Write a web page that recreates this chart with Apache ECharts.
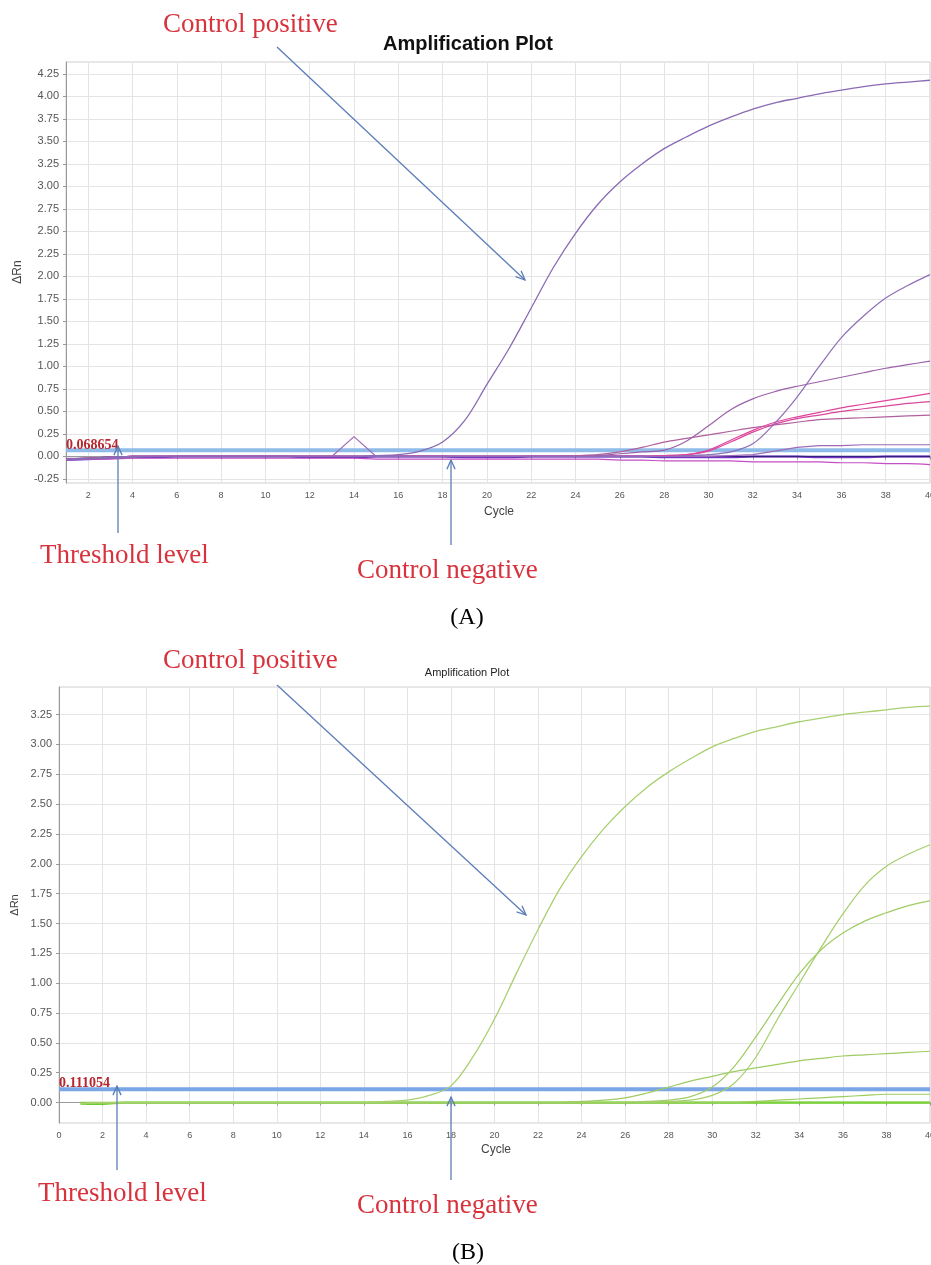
<!DOCTYPE html>
<html><head><meta charset="utf-8">
<script src="https://cdn.jsdelivr.net/npm/echarts@6/dist/echarts.min.js"></script>
<style>html,body{margin:0;padding:0;background:#fff;overflow:hidden}#c{width:931px;height:1265px}</style>
</head><body><div id="c"></div>
<script>
// ---------- shared ----------
const cycles = [1,2,3,4,5,6,7,8,9,10,11,12,13,14,15,16,17,18,19,20,21,22,23,24,25,26,27,28,29,30,31,32,33,34,35,36,37,38,39,40];

// ---------- panel A (purple) ----------
const yTicksA = [-0.25,0,0.25,0.5,0.75,1,1.25,1.5,1.75,2,2.25,2.5,2.75,3,3.25,3.5,3.75,4,4.25];
const xTicksA = [2,4,6,8,10,12,14,16,18,20,22,24,26,28,30,32,34,36,38,40];
const thresholdA = 0.068654;
const aPositive = [-0.04,-0.03,-0.02,-0.01,0,0,0,0,0,0,0,0,0,0,0.01,0.02,0.06,0.16,0.4,0.8,1.2,1.65,2.1,2.48,2.8,3.05,3.25,3.42,3.55,3.67,3.77,3.86,3.93,3.98,4.03,4.07,4.11,4.14,4.16,4.18];
const aSample1 = [-0.03,-0.02,-0.01,0,0,0,0,0,0,0,0,0,0,0,0,0,0,0,0,0,0,0,0,0,0,0,0,0,0.01,0.02,0.05,0.14,0.37,0.66,1.0,1.32,1.56,1.76,1.9,2.02];
const aSample2 = [-0.03,-0.02,-0.01,0,0,0,0,0,0,0,0,0,0,0,0,0,0,0,0,0,0,0,0,0,0.01,0.03,0.05,0.07,0.17,0.34,0.52,0.64,0.72,0.78,0.83,0.88,0.93,0.98,1.02,1.06];
const aSample3 = [-0.03,-0.02,-0.01,0,0,0,0,0,0,0,0,0,0,0,0,0,0,0,0,0,0,0,0,0,0,0,0,0.01,0.02,0.07,0.18,0.29,0.38,0.44,0.49,0.54,0.58,0.62,0.66,0.70];
const aSample4 = [-0.03,-0.02,-0.01,0,0,0,0,0,0,0,0,0,0,0,0,0,0,0,0,0,0,0,0,0,0,0,0,0.01,0.02,0.06,0.16,0.27,0.36,0.42,0.46,0.5,0.53,0.56,0.59,0.61];
const aSample5 = [-0.03,-0.02,-0.01,0,0,0,0,0,0,0,0,0,0,0,0,0,0,0,0,0,0,0,0,0.01,0.02,0.05,0.1,0.16,0.2,0.24,0.28,0.32,0.35,0.38,0.41,0.42,0.43,0.44,0.45,0.46];
const aSample6 = [-0.02,-0.02,-0.01,0,0,0,0,0,0,0,0,0,0,0.22,0,0,0,0,0,0,0,0,0,0,0,0,0,0,0,0,0.01,0.02,0.06,0.1,0.12,0.12,0.13,0.13,0.13,0.13];
const aSample7 = [-0.04,-0.03,-0.03,-0.02,-0.02,-0.02,-0.02,-0.02,-0.02,-0.02,-0.02,-0.02,-0.02,-0.02,-0.03,-0.03,-0.03,-0.03,-0.03,-0.03,-0.03,-0.03,-0.03,-0.03,-0.03,-0.04,-0.04,-0.05,-0.05,-0.05,-0.05,-0.06,-0.06,-0.06,-0.06,-0.07,-0.07,-0.08,-0.08,-0.09];
const aBaseline = [-0.03,-0.02,-0.01,0,0,0,0,0,0,0,0,0,0,0,0,0,0,0,0,0,0,0,0,0,0,0,0,0,0,0,0,0,0,0,0,0,0,0,0,0];
const aNegative = [-0.04,-0.03,-0.02,-0.01,-0.01,0,0,0,0,0,0,-0.01,-0.01,-0.01,0,0,0,0,-0.01,-0.01,-0.01,0,0,0,0,0,0,-0.01,-0.01,-0.01,-0.01,0,0,0,-0.01,-0.01,-0.01,0,0,0];

// ---------- panel B (green) ----------
const yTicksB = [0,0.25,0.5,0.75,1,1.25,1.5,1.75,2,2.25,2.5,2.75,3,3.25];
const xTicksB = [0,2,4,6,8,10,12,14,16,18,20,22,24,26,28,30,32,34,36,38,40];
const thresholdB = 0.111054;
const bPositive = [-0.01,0,0,0,0,0,0,0,0,0,0,0,0,0,0.01,0.02,0.06,0.14,0.38,0.7,1.08,1.45,1.79,2.06,2.29,2.48,2.64,2.77,2.88,2.98,3.05,3.11,3.15,3.19,3.22,3.25,3.27,3.29,3.31,3.32];
const bSample1 = [-0.01,0,0,0,0,0,0,0,0,0,0,0,0,0,0,0,0,0,0,0,0,0,0,0,0,0,0.01,0.02,0.05,0.13,0.3,0.55,0.82,1.08,1.28,1.42,1.52,1.59,1.65,1.69];
const bSample2 = [-0.01,0,0,0,0,0,0,0,0,0,0,0,0,0,0,0,0,0,0,0,0,0,0,0,0,0,0,0.01,0.02,0.06,0.16,0.38,0.7,1.0,1.3,1.58,1.82,1.98,2.08,2.16];
const bSample3 = [-0.01,0,0,0,0,0,0,0,0,0,0,0,0,0,0,0,0,0,0,0,0,0,0,0.01,0.02,0.04,0.08,0.13,0.18,0.22,0.26,0.29,0.32,0.35,0.37,0.39,0.4,0.41,0.42,0.43];
const bSample4 = [-0.01,0,0,0,0,0,0,0,0,0,0,0,0,0,0,0,0,0,0,0,0,0,0,0,0,0,0,0,0,0,0,0.01,0.02,0.03,0.04,0.05,0.06,0.07,0.07,0.07];
const bBaseline1 = [-0.01,-0.01,0,0,0,0,0,0,0,0,0,0,0,0,0,0,0,0,0,0,0,0,0,0,0,0,0,0,0,0,0,0,0,0,0,0,0,0,0,0];
const bBaseline2 = [0,0,0,0,0,0,0,0,0,0,0,0,0,0,0,0,0,0,0,0,0,0,0,0,0,0,0,0,0,0,0,0,0,0,0,0,0,0,0,0];

function pts(arr){ return cycles.map((c,i)=>[c, arr[i]]); }
function line(name, arr, color, w, gi, smooth){
  return {name, type:'line', xAxisIndex:gi, yAxisIndex:gi, data:pts(arr), showSymbol:false,
    smooth: smooth === undefined ? 0.35 : smooth,
    lineStyle:{color, width:w}, itemStyle:{color}, silent:true, animation:false};
}
function thr(val, x0, x1, color, gi){
  return {type:'line', xAxisIndex:gi, yAxisIndex:gi, data:[[x0,val],[x1,val]], showSymbol:false,
    lineStyle:{color, width:4}, silent:true, animation:false, z:1};
}

const axisLabelStyle = {color:'#555', fontFamily:'Arial, Liberation Sans, sans-serif'};
const gridLine = {show:true, lineStyle:{color:'#e4e4e4', width:1}};

const ARROW = '#5b7db8', RED = '#d8323d';
function arrow(x1,y1,x2,y2){
  const ang = Math.atan2(y2-y1, x2-x1), L = 10, h = 0.42;
  return [
    {type:'line', z:100, shape:{x1,y1,x2,y2}, style:{stroke:ARROW, lineWidth:1.3}},
    {type:'polyline', z:100, shape:{points:[[x2-L*Math.cos(ang-h), y2-L*Math.sin(ang-h)],[x2,y2],[x2-L*Math.cos(ang+h), y2-L*Math.sin(ang+h)]]},
      style:{stroke:ARROW, lineWidth:1.3, fill:null}}
  ];
}
function txt(t, x, y, font, fill, align){
  return {type:'text', z:100, x, y, style:{text:t, font, fill, align:align||'left', verticalAlign:'middle'}};
}
const SERIF = 'Liberation Serif, Times New Roman, serif';

const chart = echarts.init(document.getElementById('c'), null, {renderer:'canvas'});
chart.setOption({
  animation:false,
  backgroundColor:'#fff',
  grid:[
    {left:66, top:62, width:864, height:421, show:true, borderColor:'#cfcfcf', borderWidth:1, containLabel:false, outerBoundsMode:'none'},
    {left:59, top:687, width:871, height:436, show:true, borderColor:'#cfcfcf', borderWidth:1, containLabel:false, outerBoundsMode:'none'}
  ],
  xAxis:[
    {type:'value', gridIndex:0, min:1, max:40,
     axisLine:{lineStyle:{color:'#999'}}, axisTick:{show:true, length:3, customValues:xTicksA, lineStyle:{color:'#999'}},
     axisLabel:Object.assign({fontSize:9, margin:8, customValues:xTicksA}, axisLabelStyle), splitLine:gridLine},
    {type:'value', gridIndex:1, min:0, max:40,
     axisLine:{lineStyle:{color:'#999'}}, axisTick:{show:true, length:3, customValues:xTicksB, lineStyle:{color:'#999'}},
     axisLabel:Object.assign({fontSize:9, margin:8, customValues:xTicksB}, axisLabelStyle), splitLine:gridLine}
  ],
  yAxis:[
    {type:'value', gridIndex:0, min:-0.295, max:4.383,
     axisLine:{show:true, lineStyle:{color:'#999'}}, axisTick:{show:true, length:3, customValues:yTicksA, lineStyle:{color:'#999'}},
     axisLabel:Object.assign({fontSize:11, margin:7, customValues:yTicksA, formatter:v=>v.toFixed(2)}, axisLabelStyle), splitLine:gridLine},
    {type:'value', gridIndex:1, min:-0.171, max:3.481,
     axisLine:{show:true, lineStyle:{color:'#999'}}, axisTick:{show:true, length:3, customValues:yTicksB, lineStyle:{color:'#999'}},
     axisLabel:Object.assign({fontSize:11, margin:7, customValues:yTicksB, formatter:v=>v.toFixed(2)}, axisLabelStyle), splitLine:gridLine}
  ],
  series:[
    thr(thresholdA, cycles[0], cycles[cycles.length-1], '#8fbbe9', 0),
    line('neg', aNegative, '#8b3bdd', 2, 0),
    line('base', aBaseline, '#33207f', 1.5, 0),
    line('s7', aSample7, '#c44fc4', 1.2, 0),
    line('s6', aSample6, '#a06ab8', 1.2, 0, false),
    line('s5', aSample5, '#b0609e', 1.2, 0),
    line('s4', aSample4, '#d9479c', 1.2, 0),
    line('s3', aSample3, '#e0449b', 1.2, 0),
    line('s2', aSample2, '#9c62a8', 1.2, 0),
    line('s1', aSample1, '#8e6db8', 1.2, 0),
    line('pos', aPositive, '#8a6ab4', 1.3, 0),

    thr(thresholdB, 0, cycles[cycles.length-1], '#7aa6e6', 1),
    line('b1', bBaseline1, '#6acb2c', 2.2, 1),
    line('b2', bBaseline2, '#7fd13c', 1.5, 1),
    line('bs4', bSample4, '#9ccc5c', 1.2, 1),
    line('bs3', bSample3, '#9fcb62', 1.2, 1),
    line('bs2', bSample2, '#a5cf6b', 1.2, 1),
    line('bs1', bSample1, '#a0cc66', 1.2, 1),
    line('bpos', bPositive, '#a8d070', 1.3, 1)
  ],
  graphic:[].concat(
    [txt('Amplification Plot', 468, 44, 'bold 20px Arial, Liberation Sans, sans-serif', '#111', 'center'),
     txt('Amplification Plot', 467, 673, '11px Arial, Liberation Sans, sans-serif', '#222', 'center'),
     {type:'text', z:100, x:18, y:272, rotation:Math.PI/2, style:{text:'ΔRn', font:'12px Arial, Liberation Sans, sans-serif', fill:'#444', align:'center', verticalAlign:'middle'}},
     {type:'text', z:100, x:15, y:905, rotation:Math.PI/2, style:{text:'ΔRn', font:'11px Arial, Liberation Sans, sans-serif', fill:'#444', align:'center', verticalAlign:'middle'}},
     txt('Cycle', 499, 512, '12px Arial, Liberation Sans, sans-serif', '#444', 'center'),
     txt('Cycle', 496, 1150, '12px Arial, Liberation Sans, sans-serif', '#444', 'center'),
     txt('0.068654', 66, 445, 'bold 14px ' + SERIF, '#b8262e'),
     txt('0.111054', 59, 1083, 'bold 14px ' + SERIF, '#b8262e'),
     txt('Control positive', 163, 25, '27px ' + SERIF, RED),
     txt('Threshold level', 40, 556, '27px ' + SERIF, RED),
     txt('Control negative', 357, 571, '27px ' + SERIF, RED),
     txt('(A)', 467, 618, '24px ' + SERIF, '#000', 'center'),
     txt('Control positive', 163, 661, '27px ' + SERIF, RED),
     txt('Threshold level', 38, 1194, '27px ' + SERIF, RED),
     txt('Control negative', 357, 1206, '27px ' + SERIF, RED),
     txt('(B)', 468, 1253, '24px ' + SERIF, '#000', 'center')],
    arrow(277,47,525,280),
    arrow(118,533,118,446),
    arrow(451,545,451,460),
    arrow(277,685,526,915),
    arrow(117,1170,117,1086),
    arrow(451,1180,451,1097)
  )
});
</script>
</body></html>
